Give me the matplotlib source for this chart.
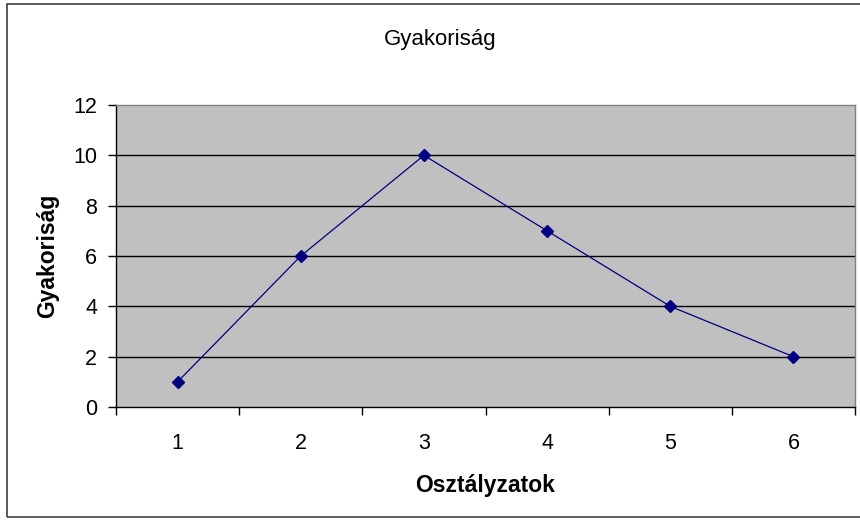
import numpy as np
import matplotlib.pyplot as plt
from matplotlib.patches import Rectangle

# Chart data
categories = ['1', '2', '3', '4', '5', '6']
frequency = [1, 6, 10, 7, 4, 2]
y_ticks = [0, 2, 4, 6, 8, 10, 12]

plt.rcParams['font.family'] = ['Liberation Sans', 'DejaVu Sans']

fig = plt.figure(figsize=(8.6, 5.22), dpi=100)
fig.patch.set_facecolor('white')

# Outer chart border
fig.patches.append(Rectangle((7 / 860, 5 / 522), 1.02, 1 - 9 / 522,
                             transform=fig.transFigure, fill=False,
                             edgecolor='#404040', linewidth=1.2, zorder=0))

ax = fig.add_axes([116 / 860, 1 - 407 / 522, 739 / 860, 302 / 522])
ax.set_facecolor('#c0c0c0')

x = np.arange(len(categories))
ax.plot(x, frequency, color='#000080', linewidth=0.9, marker='D',
        markersize=6.5, markerfacecolor='#000080', markeredgecolor='#000080',
        zorder=3)

ax.set_xlim(-0.5, len(categories) - 0.5)
ax.set_ylim(0, 12)

# Gridlines
for y in y_ticks[1:-1]:
    ax.axhline(y, color='black', linewidth=1.0, zorder=1)

# Spines
for side in ['top', 'right']:
    ax.spines[side].set_color('#808080')
    ax.spines[side].set_linewidth(1.0)
for side in ['left', 'bottom']:
    ax.spines[side].set_color('black')
    ax.spines[side].set_linewidth(1.0)

ax.set_yticks(y_ticks)
ax.tick_params(axis='y', direction='out', length=6, width=1, labelsize=15.5, pad=7.5)

ax.set_xticks(x)
ax.set_xticklabels(categories)
ax.set_xticks(np.arange(-0.5, len(categories)), minor=True)
ax.tick_params(axis='x', which='major', length=0, labelsize=15.5, pad=19)
ax.tick_params(axis='x', which='minor', direction='out', length=5.5, width=1)

fig.text(440 / 860, 1 - 39 / 522, 'Gyakoriság', ha='center', va='center', fontsize=16)
ax.set_xlabel('Osztályzatok', fontsize=16.5, fontweight='bold', labelpad=14)
ax.set_ylabel('Gyakoriság', fontsize=16.5, fontweight='bold', labelpad=10)

plt.savefig('out.png', dpi=100)
